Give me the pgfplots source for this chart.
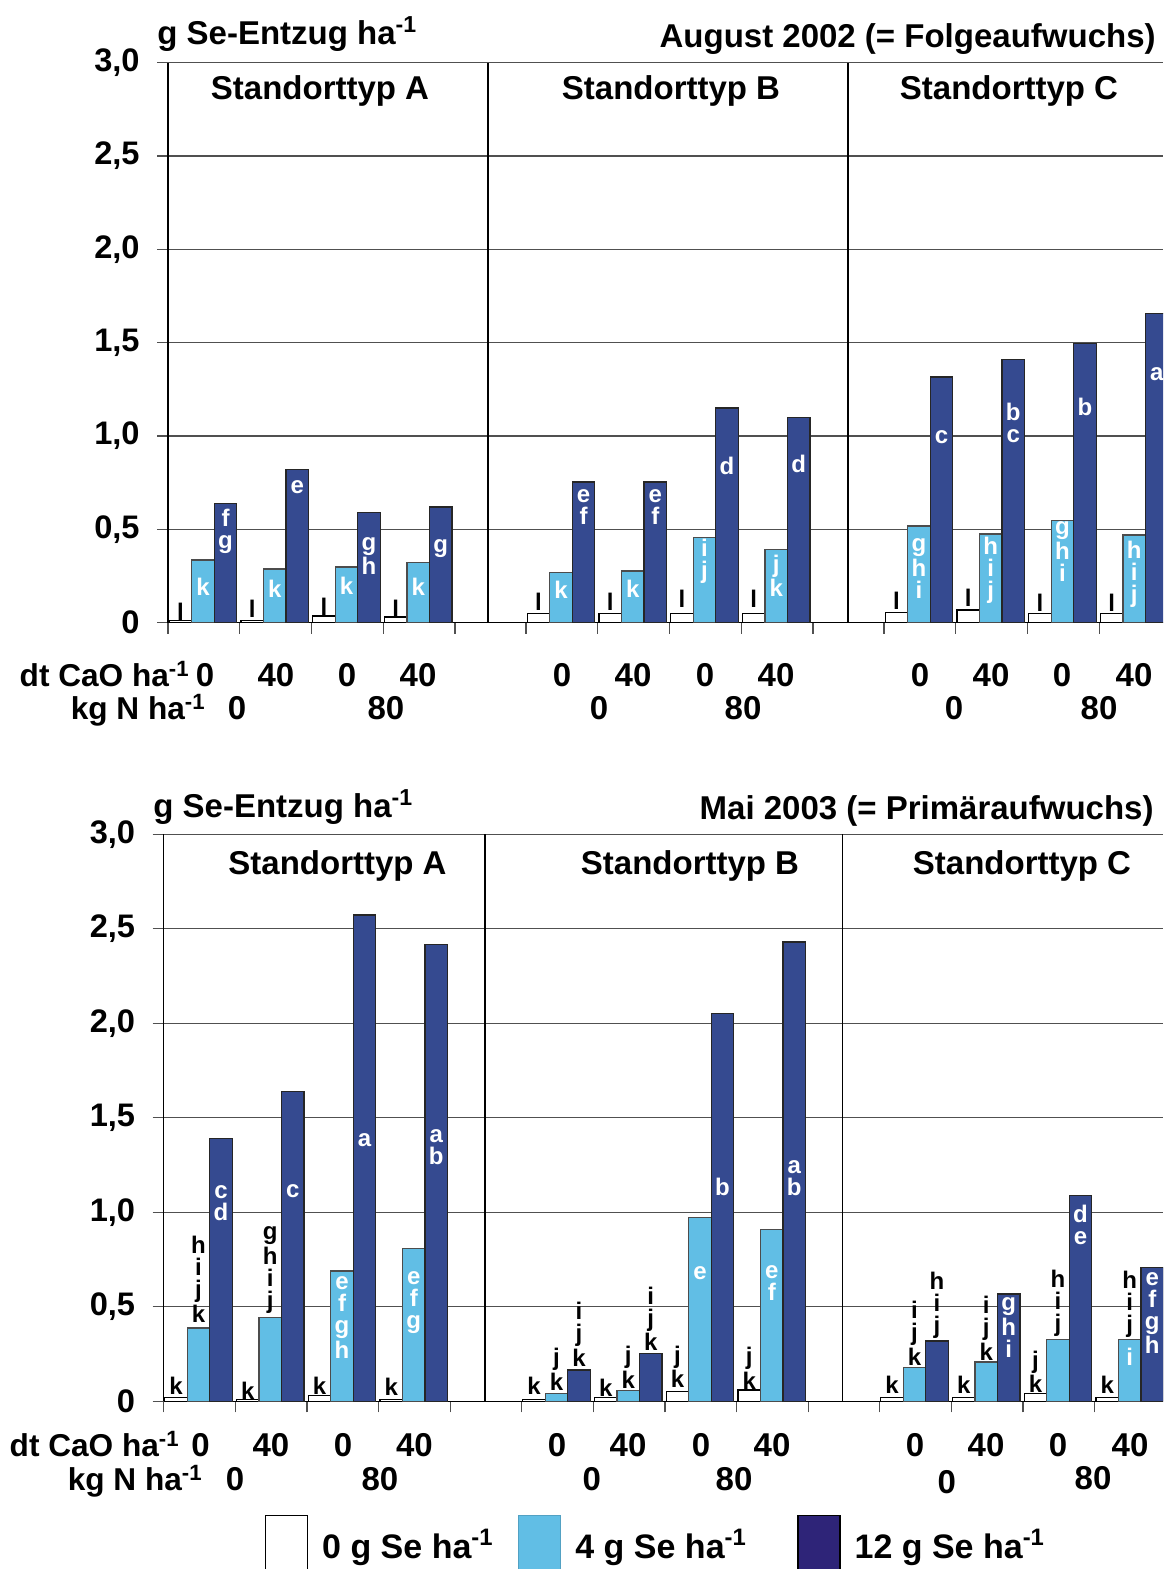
\documentclass[border=0pt]{standalone}
\usepackage{fontspec}
\setmainfont{Liberation Sans}
\usepackage{pgfplots}
\pgfplotsset{compat=1.18}
\definecolor{lblue}{HTML}{61BEE5}
\definecolor{dblue}{HTML}{354A90}
\definecolor{legdark}{HTML}{2E2478}
\definecolor{gridc}{HTML}{505050}
\newcommand{\sq}{\textsuperscript{-1}}
\newcommand{\lb}[4]{\node[#1] at (axis cs:#2,#3) {#4};}
\begin{document}
\begin{tikzpicture}[
  lab/.style={font=\bfseries\fontsize{12}{11}\selectfont, align=center, inner sep=0pt},
  labw/.style={lab, text=white},
  labb/.style={lab, text=black},
  big/.style={font=\bfseries\fontsize{16.5}{19}\selectfont, inner sep=0pt},
  mid/.style={font=\bfseries\fontsize{15.8}{19}\selectfont, inner sep=0pt},
]
\pgfplotsset{
  panel/.style={
    x=0.5pt, xmin=0, ymin=0, ymax=3,
    axis x line=bottom, axis y line=left,
    axis line style={-, black, line width=0.8pt},
    every outer x axis line/.append style={-},
    every outer y axis line/.append style={-},
    ytick={0,0.5,1,1.5,2,2.5,3},
    yticklabels={\textbf{0},\textbf{0,5},\textbf{1,0},\textbf{1,5},\textbf{2,0},\textbf{2,5},\textbf{3,0}},
    xtick={0,71.75,143.5,215.25,287,358,429.75,501.5,573.25,645,716,787.75,859.5,931.25},
    xticklabels={},
    tick align=outside, major tick length=5.5pt,
    tick style={gridc, line width=0.6pt},
    ymajorgrids, grid style={gridc, line width=0.6pt},
    tick label style={font=\bfseries\fontsize{16.3}{19}\selectfont},
    yticklabel style={inner sep=0pt},
    yticklabel shift=8.5pt,
    clip mode=individual,
    anchor=south west,
  },
  wbar/.style={ybar, bar width=22.5, bar shift=0pt, fill=white, draw=black, line width=0.6pt, forget plot},
  lbar/.style={ybar, bar width=22.5, bar shift=0pt, fill=lblue, draw=black!70, line width=0.6pt, forget plot},
  dbar/.style={ybar, bar width=22.5, bar shift=0pt, fill=dblue, draw=black!85, line width=0.6pt, forget plot},
}
% ---------------- top panel: August 2002 ----------------
\begin{axis}[panel, y=93.35pt, xmax=995, at={(84pt,473.15pt)}]
\addplot[wbar] coordinates {(12.5,0.010) (84.25,0.013) (156,0.036) (227.75,0.030) (370.5,0.050) (442.25,0.050) (514,0.050) (585.75,0.050) (728.5,0.056) (800.25,0.068) (872,0.050) (943.75,0.050)};
\addplot[lbar] coordinates {(35,0.336) (106.75,0.288) (178.5,0.298) (250.25,0.323) (393,0.268) (464.75,0.277) (536.5,0.457) (608.25,0.390) (751,0.518) (822.75,0.475) (894.5,0.546) (966.25,0.470)};
\addplot[dbar] coordinates {(57.5,0.637) (129.25,0.820) (201,0.591) (272.75,0.620) (415.5,0.754) (487.25,0.754) (559,1.150) (630.75,1.100) (773.5,1.316) (845.25,1.410) (917,1.497) (988.75,1.657)};
\draw[black, line width=0.8pt] (axis cs:320,0) -- (axis cs:320,3);
\draw[black, line width=1.2pt] (axis cs:680,0) -- (axis cs:680,3);
% letters A
\lb{labb}{12.5}{0.057}{l}\lb{labb}{84.25}{0.073}{l}\lb{labb}{156}{0.084}{l}\lb{labb}{227.75}{0.073}{l}
\lb{labw}{35}{0.193}{k}\lb{labw}{106.75}{0.184}{k}\lb{labw}{178.5}{0.198}{k}\lb{labw}{250.25}{0.19}{k}
\lb{labw}{57.5}{0.487}{f\\g}\lb{labw}{129.25}{0.728}{e}\lb{labw}{201}{0.358}{g\\h}\lb{labw}{272.75}{0.395}{g}
% letters B
\lb{labb}{370.5}{0.112}{l}\lb{labb}{442.25}{0.112}{l}\lb{labb}{514}{0.127}{l}\lb{labb}{585.75}{0.127}{l}
\lb{labw}{393}{0.175}{k}\lb{labw}{464.75}{0.184}{k}\lb{labw}{536.5}{0.327}{i\\j}\lb{labw}{608.25}{0.251}{j\\k}
\lb{labw}{415.5}{0.617}{e\\f}\lb{labw}{487.25}{0.617}{e\\f}\lb{labw}{559}{0.84}{d}\lb{labw}{630.75}{0.85}{d}
% letters C
\lb{labb}{728.5}{0.117}{l}\lb{labb}{800.25}{0.131}{l}\lb{labb}{872}{0.104}{l}\lb{labb}{943.75}{0.104}{l}
\lb{labw}{751}{0.291}{g\\h\\i}\lb{labw}{822.75}{0.282}{h\\i\\j}\lb{labw}{894.5}{0.38}{g\\h\\i}\lb{labw}{966.25}{0.26}{h\\i\\j}
\lb{labw}{773.5}{0.996}{c}\lb{labw}{845.25}{1.072}{b\\c}\lb{labw}{917}{1.157}{b}\lb{labw}{988.75}{1.332}{a}
\end{axis}
% ---------------- bottom panel: Mai 2003 ----------------
\begin{axis}[panel, y=94.5pt, xmax=999.5, at={(81.75pt,83.85pt)},
  legend columns=3,
  legend style={draw=none, fill=none, inner sep=0pt, outer sep=0pt, column sep=0pt,
    at={(axis cs:101.5,-0.761)}, anchor=west,
    font=\bfseries\fontsize{17}{20}\selectfont, nodes={inner sep=0pt}},
  legend image code/.code={\draw[#1] (0pt,-15pt) rectangle (21pt,15pt); \path (28pt,0pt);},
]
\addplot[wbar] coordinates {(12.5,0.019) (84.25,0.008) (156,0.032) (227.75,0.008) (370.5,0.008) (442.25,0.019) (514,0.053) (585.75,0.060) (728.5,0.019) (800.25,0.021) (872,0.040) (943.75,0.019)};
\addplot[lbar] coordinates {(35,0.388) (106.75,0.442) (178.5,0.689) (250.25,0.810) (393,0.040) (464.75,0.058) (536.5,0.974) (608.25,0.910) (751,0.180) (822.75,0.208) (894.5,0.328) (966.25,0.328)};
\addplot[dbar] coordinates {(57.5,1.392) (129.25,1.640) (201,2.573) (272.75,2.418) (415.5,0.166) (487.25,0.252) (559,2.053) (630.75,2.430) (773.5,0.319) (845.25,0.568) (917,1.090) (988.75,0.709)};
\addlegendimage{fill=white, draw=black, line width=0.6pt}
\addlegendentry{\makebox[98pt][l]{0 g Se ha\sq}}
\addlegendimage{fill=lblue, draw=lblue!85!black, line width=0.6pt}
\addlegendentry{\makebox[111pt][l]{4 g Se ha\sq}}
\addlegendimage{fill=legdark, draw=black, line width=0.6pt}
\addlegendentry{12 g Se ha\sq}
\draw[black, line width=0.8pt] (axis cs:321.5,0) -- (axis cs:321.5,3);
\draw[black, line width=0.8pt] (axis cs:678.8,0) -- (axis cs:678.8,3);
% letters A
\lb{labb}{12.5}{0.082}{k}\lb{labb}{84.25}{0.056}{k}\lb{labb}{156}{0.082}{k}\lb{labb}{227.75}{0.077}{k}
\lb{labb}{35}{0.646}{h\\i\\j\\k}\lb{labb}{106.75}{0.695}{g\\h\\i\\j}\lb{labw}{178.5}{0.444}{e\\f\\g\\h}\lb{labw}{250.25}{0.523}{e\\f\\g}
\lb{labw}{57.5}{1.048}{c\\d}\lb{labw}{129.25}{1.11}{c}\lb{labw}{201}{1.383}{a}\lb{labw}{272.75}{1.344}{a\\b}
% letters B
\lb{labb}{370.5}{0.082}{k}\lb{labb}{442.25}{0.073}{k}\lb{labb}{514}{0.183}{j\\k}\lb{labb}{585.75}{0.175}{j\\k}
\lb{labb}{393}{0.17}{j\\k}\lb{labb}{464.75}{0.179}{j\\k}\lb{labw}{536.5}{0.678}{e}\lb{labw}{608.25}{0.625}{e\\f}
\lb{labb}{415.5}{0.355}{i\\j\\k}\lb{labb}{487.25}{0.435}{i\\j\\k}\lb{labw}{559}{1.132}{b}\lb{labw}{630.75}{1.18}{a\\b}
% letters C
\lb{labb}{728.5}{0.086}{k}\lb{labb}{800.25}{0.086}{k}\lb{labb}{872}{0.157}{j\\k}\lb{labb}{943.75}{0.086}{k}
\lb{labb}{751}{0.36}{i\\j\\k}\lb{labb}{822.75}{0.386}{i\\j\\k}\lb{labb}{894.5}{0.519}{h\\i\\j}\lb{labb}{966.25}{0.514}{h\\i\\j}\lb{labw}{966.25}{0.236}{i}
\lb{labb}{773.5}{0.506}{h\\i\\j}\lb{labw}{845.25}{0.391}{g\\h\\i}\lb{labw}{917}{0.933}{d\\e}\lb{labw}{988.75}{0.466}{e\\f\\g\\h}
\end{axis}
% ---------------- texts in pixel frame ----------------
\begin{scope}[x=0.5pt, y=-0.5pt, shift={(0pt,784.5pt)}]
\node[big, anchor=base west] at (157,45) {g Se-Entzug ha\sq};
\node[big, anchor=base east] at (1156,48) {August 2002 (= Folgeaufwuchs)};
\node[big, anchor=base] at (320,100) {Standorttyp A};
\node[big, anchor=base] at (671,100) {Standorttyp B};
\node[big, anchor=base] at (1009,100) {Standorttyp C};
\node[mid, anchor=base east] at (190,687) {dt CaO ha\sq};
\foreach \x/\t in {205/0,276/40,347/0,418/40,562/0,633/40,705/0,776/40,920/0,991/40,1062/0,1134/40}
  \node[big, anchor=base] at (\x,687) {\t};
\node[mid, anchor=base east] at (206,720) {kg N ha\sq};
\foreach \x/\t in {237/0,386/80,599/0,743/80,954/0,1099/80}
  \node[big, anchor=base] at (\x,720) {\t};
\node[big, anchor=base west] at (153,818) {g Se-Entzug ha\sq};
\node[big, anchor=base east] at (1154,820) {Mai 2003 (= Prim\"araufwuchs)};
\node[big, anchor=base] at (337.5,875) {Standorttyp A};
\node[big, anchor=base] at (690,875) {Standorttyp B};
\node[big, anchor=base] at (1022,875) {Standorttyp C};
\node[mid, anchor=base east] at (180,1457) {dt CaO ha\sq};
\foreach \x/\t in {200.5/0,271/40,343/0,414.5/40,557/0,628/40,701/0,772/40,915/0,986/40,1058/0,1130/40}
  \node[big, anchor=base] at (\x,1457) {\t};
\node[mid, anchor=base east] at (203,1491) {kg N ha\sq};
\foreach \x/\y/\t in {235/1491/0,380/1491/80,591.7/1491/0,734/1491/80,946.7/1494/0,1093/1490/80}
  \node[big, anchor=base] at (\x,\y) {\t};
\end{scope}
\pgfresetboundingbox
\path (0pt,0pt) rectangle (581.5pt,784.5pt);
\end{tikzpicture}
\end{document}
